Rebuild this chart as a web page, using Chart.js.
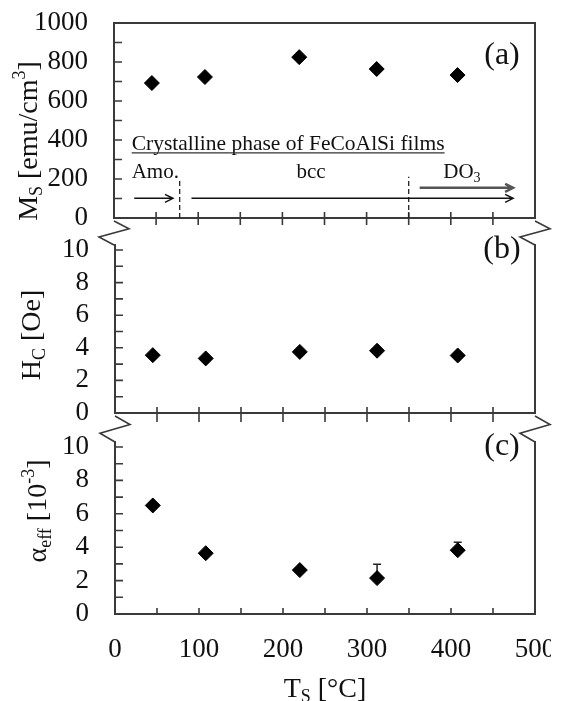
<!DOCTYPE html>
<html>
<head>
<meta charset="utf-8">
<script src="https://cdn.jsdelivr.net/npm/chart.js@4.4.1/dist/chart.umd.min.js"></script>
<style>
  html, body { margin: 0; padding: 0; background: #fff; }
  #wrap { position: relative; width: 563px; height: 701px; overflow: hidden; }
  canvas { position: absolute; left: 0; }
</style>
</head>
<body>
<div id="wrap">
  <canvas id="chartA" width="563" height="250" style="top:0px"></canvas>
  <canvas id="chartB" width="563" height="215" style="top:230px"></canvas>
  <canvas id="chartC" width="551" height="281" style="top:420px"></canvas>
</div>
<script>
// substrate temperature Ts [°C] of the five samples
const tempC = [45, 108, 220, 312, 408];
// (a) saturation magnetization Ms [emu/cm3]
const msValues = [692, 723, 825, 764, 733];
// (b) coercivity Hc [Oe]
const hcValues = [3.55, 3.35, 3.75, 3.82, 3.53];
// (c) effective damping alpha_eff [10^-3], upper error only
const alphaValues = [6.5, 3.64, 2.63, 2.15, 3.82];
const alphaErrUp = [0, 0, 0, 0.83, 0.47];
// crystalline phase boundaries [°C]
const phaseBounds = [78, 350];

const serif = "'Liberation Serif', 'Times New Roman', serif";
const ink = '#111';
const axisInk = '#3a3a3a';

// draws text made of pieces with sub/superscripts
function rich(ctx, parts, x, y, rotate, align) {
  ctx.save();
  ctx.translate(x, y);
  if (rotate) ctx.rotate(-Math.PI / 2);
  let w = 0;
  for (const p of parts) {
    ctx.font = p.s + 'px ' + serif;
    p.w = ctx.measureText(p.t).width;
    w += p.w;
  }
  let cx = align === 'left' ? 0 : -w / 2;
  ctx.textBaseline = 'alphabetic';
  ctx.textAlign = 'left';
  ctx.fillStyle = ink;
  for (const p of parts) {
    ctx.font = p.s + 'px ' + serif;
    ctx.fillText(p.t, cx, p.dy || 0);
    cx += p.w;
  }
  ctx.restore();
  return w;
}

function arrow(ctx, x1, x2, y) {
  ctx.beginPath();
  ctx.moveTo(x1, y);
  ctx.lineTo(x2, y);
  ctx.moveTo(x2 - 8, y - 4);
  ctx.lineTo(x2, y);
  ctx.lineTo(x2 - 8, y + 4);
  ctx.stroke();
}

function zigzag(ctx, x, y, len) {
  ctx.beginPath();
  ctx.moveTo(x, y + 3);
  ctx.lineTo(x + 15, y + len * 0.4);
  ctx.lineTo(x - 15, y + len * 0.7);
  ctx.lineTo(x, y + len);
  ctx.stroke();
}

// phase annotation inside panel (a)
function drawPhases(ctx, x, y) {
  const px = v => x.getPixelForValue(v);
  const py = v => y.getPixelForValue(v);
  ctx.save();
  ctx.fillStyle = ink;
  ctx.font = '21.5px ' + serif;
  ctx.textBaseline = 'alphabetic';
  ctx.textAlign = 'left';
  const title = 'Crystalline phase of FeCoAlSi films';
  const tx = px(21), ty = py(349);
  ctx.fillText(title, tx, ty);
  const tw = ctx.measureText(title).width;
  ctx.strokeStyle = '#333';
  ctx.lineWidth = 1.3;
  ctx.beginPath();
  ctx.moveTo(tx, ty + 3);
  ctx.lineTo(tx + tw, ty + 3);
  ctx.stroke();

  ctx.font = '21px ' + serif;
  ctx.fillText('Amo.', px(21), py(205));
  ctx.textAlign = 'center';
  ctx.fillText('bcc', px(234), py(205));
  rich(ctx, [{ t: 'DO', s: 21 }, { t: '3', s: 14, dy: 4 }], px(391), py(205), false, 'left');

  // dashed phase boundaries
  ctx.strokeStyle = '#222';
  ctx.lineWidth = 1.3;
  ctx.setLineDash([5, 3]);
  ctx.beginPath();
  ctx.moveTo(px(phaseBounds[0]), py(0));
  ctx.lineTo(px(phaseBounds[0]), py(195));
  ctx.moveTo(px(phaseBounds[1]), py(0));
  ctx.lineTo(px(phaseBounds[1]), py(212));
  ctx.stroke();
  ctx.setLineDash([]);

  ctx.strokeStyle = '#111';
  ctx.lineWidth = 1.5;
  arrow(ctx, px(24), px(70), py(101));
  arrow(ctx, px(92), px(474), py(101));
  ctx.strokeStyle = '#555';
  ctx.lineWidth = 2.5;
  arrow(ctx, px(363), px(474), py(155));
  ctx.restore();
}

function deco(o) {
  return {
    id: 'deco',
    beforeDatasetsDraw(chart) {
      if (!o.errors) return;
      const ctx = chart.ctx, x = chart.scales.x, y = chart.scales.y;
      ctx.save();
      ctx.strokeStyle = '#222';
      ctx.lineWidth = 1.5;
      o.errors.forEach((e, i) => {
        if (!e) return;
        const px = x.getPixelForValue(tempC[i]);
        const top = y.getPixelForValue(o.values[i] + e);
        ctx.beginPath();
        ctx.moveTo(px, y.getPixelForValue(o.values[i]));
        ctx.lineTo(px, top);
        ctx.moveTo(px - 4, top);
        ctx.lineTo(px + 4, top);
        ctx.stroke();
      });
      ctx.restore();
    },
    afterDraw(chart) {
      const ctx = chart.ctx, a = chart.chartArea, x = chart.scales.x, y = chart.scales.y;
      ctx.save();
      ctx.strokeStyle = axisInk;
      ctx.lineWidth = 2;
      ctx.lineCap = 'square';
      ctx.beginPath();
      if (o.topLine) {
        ctx.rect(a.left, a.top, a.right - a.left, a.bottom - a.top);
      } else {
        ctx.moveTo(a.left, a.top - 5);
        ctx.lineTo(a.left, a.bottom);
        ctx.lineTo(a.right, a.bottom);
        ctx.lineTo(a.right, a.top - 5);
      }
      ctx.stroke();

      // tick marks
      ctx.lineWidth = 1.6;
      ctx.lineCap = 'butt';
      ctx.beginPath();
      y.ticks.forEach(t => {
        const p = y.getPixelForValue(t.value);
        ctx.moveTo(a.left, p);
        ctx.lineTo(a.left + 8, p);
      });
      x.ticks.forEach(t => {
        if (t.value <= 0 || t.value >= 500) return;
        const p = x.getPixelForValue(t.value);
        ctx.moveTo(p, a.bottom - 6);
        ctx.lineTo(p, a.bottom + o.tickOut);
      });
      ctx.stroke();

      // axis break marks down to the next panel
      if (o.zig) {
        ctx.lineWidth = 1.6;
        zigzag(ctx, a.left, a.bottom, o.zig);
        zigzag(ctx, a.right, a.bottom, o.zig);
      }
      ctx.restore();

      if (o.phases) drawPhases(ctx, x, y);

      // panel letter
      ctx.save();
      ctx.fillStyle = ink;
      ctx.font = '32px ' + serif;
      ctx.textAlign = 'center';
      ctx.textBaseline = 'middle';
      ctx.fillText(o.letter, a.right - 33, a.top + o.letterDy);
      ctx.restore();

      rich(ctx, o.title, o.titleX, o.titleY, true);
      if (o.xTitle) {
        rich(ctx, o.xTitle, x.getPixelForValue(250), o.xTitleY, false);
      }
    }
  };
}

function panel(id, values, yMax, yStep, o) {
  return new Chart(document.getElementById(id), {
    type: 'scatter',
    data: {
      datasets: [{
        data: tempC.map((t, i) => ({ x: t, y: values[i] })),
        pointStyle: 'rectRot',
        pointRadius: 7.5,
        pointHoverRadius: 7.5,
        pointBackgroundColor: '#000',
        pointBorderColor: '#000',
        pointBorderWidth: 1
      }]
    },
    options: {
      responsive: false,
      animation: false,
      events: [],
      layout: { padding: { top: o.top, right: o.right, left: 0, bottom: 0 } },
      plugins: { legend: { display: false }, tooltip: { enabled: false } },
      scales: {
        x: {
          type: 'linear', min: 0, max: 500,
          grid: { display: false, drawTicks: false },
          border: { display: false },
          ticks: {
            stepSize: 50, autoSkip: false, maxRotation: 0,
            display: !!o.xLabels, padding: 20,
            font: { family: serif, size: 27 }, color: ink,
            callback: v => (v % 100 === 0 ? v : '')
          },
          afterFit: s => { s.height = o.xH; s.paddingLeft = 0; s.paddingRight = 0; }
        },
        y: {
          min: 0, max: yMax,
          grid: { display: false, drawTicks: false },
          border: { display: false },
          ticks: {
            stepSize: yStep, autoSkip: false, padding: 26,
            font: { family: serif, size: 27 }, color: ink,
            callback: v => (v % (yStep * 2) === 0 ? v : '')
          },
          afterFit: s => { s.width = o.left; s.paddingTop = 0; s.paddingBottom = 0; }
        }
      }
    },
    plugins: [deco(Object.assign({ values }, o))]
  });
}

panel('chartA', msValues, 1000, 100, {
  left: 114, top: 23, right: 28, xH: 32, topLine: true, tickOut: 7, zig: 27,
  letter: '(a)', letterDy: 33, phases: true,
  title: [{ t: 'M', s: 28 }, { t: 'S', s: 18, dy: 5 }, { t: ' [emu/cm', s: 28 }, { t: '3', s: 18, dy: -12 }, { t: ']', s: 28 }],
  titleX: 37, titleY: 141
});

panel('chartB', hcValues, 10, 1, {
  left: 115, top: 20, right: 28, xH: 32, tickOut: 9, zig: 29,
  letter: '(b)', letterDy: 0,
  title: [{ t: 'H', s: 28 }, { t: 'C', s: 18, dy: 5 }, { t: ' [Oe]', s: 28 }],
  titleX: 40, titleY: 105
});

panel('chartC', alphaValues, 10, 1, {
  left: 115, top: 27, right: 16, xH: 87, tickOut: 0, xLabels: true,
  letter: '(c)', letterDy: 0, errors: alphaErrUp,
  title: [{ t: 'α', s: 28 }, { t: 'eff', s: 18, dy: 5 }, { t: ' [10', s: 28 }, { t: '-3', s: 18, dy: -12 }, { t: ']', s: 28 }],
  titleX: 46, titleY: 91,
  xTitle: [{ t: 'T', s: 28 }, { t: 'S', s: 18, dy: 5 }, { t: ' [°C]', s: 28 }],
  xTitleY: 277
});
</script>
</body>
</html>
